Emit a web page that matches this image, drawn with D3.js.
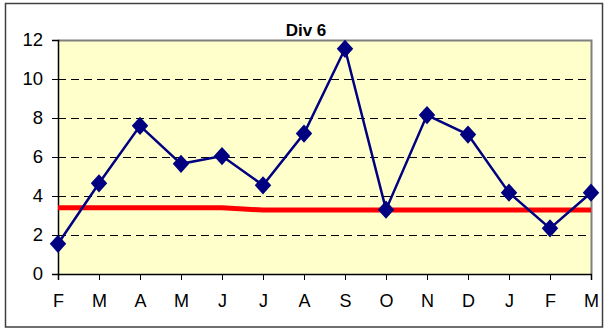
<!DOCTYPE html>
<html>
<head>
<meta charset="utf-8">
<script src="https://cdn.jsdelivr.net/npm/d3@7"></script>
<style>
  html, body { margin: 0; padding: 0; background: #fff; }
  svg { display: block; font-family: Arial, "Liberation Sans", sans-serif; }
</style>
</head>
<body>
<svg id="chart" width="608" height="329"></svg>
<script>
// Monthly series for Div 6
const months = ["F", "M", "A", "M", "J", "J", "A", "S", "O", "N", "D", "J", "F", "M"];
const actual = [1.55, 4.65, 7.6, 5.65, 6.05, 4.55, 7.2, 11.55, 3.3, 8.15, 7.15, 4.17, 2.34, 4.17];
const target = [3.4, 3.4, 3.4, 3.4, 3.4, 3.28, 3.28, 3.28, 3.28, 3.28, 3.28, 3.28, 3.28, 3.28];
const yTicks = [0, 2, 4, 6, 8, 10, 12];

const svg = d3.select("#chart");
const W = 608, H = 329;
const m = { left: 58, right: 17, top: 40, bottom: 55 };
const pw = W - m.left - m.right, ph = H - m.top - m.bottom;

// outer frame
svg.append("rect").attr("x", 5.5).attr("y", 3.5).attr("width", 597).attr("height", 323.5)
  .attr("fill", "#fff").attr("stroke", "#404040").attr("stroke-width", 1.5);

const g = svg.append("g").attr("transform", `translate(${m.left},${m.top})`);

const x = d3.scalePoint().domain(d3.range(months.length)).range([0, pw]);
const y = d3.scaleLinear().domain([0, 12]).range([ph, 0]);

// plot area
g.append("rect").attr("width", pw).attr("height", ph).attr("fill", "#FFFFCC");

// dashed gridlines
g.selectAll("line.grid").data(yTicks.filter(v => v > 0 && v < 12)).join("line")
  .attr("class", "grid")
  .attr("x1", 0).attr("x2", pw)
  .attr("y1", d => Math.round(y(d)) + 0.5).attr("y2", d => Math.round(y(d)) + 0.5)
  .attr("stroke", "#000").attr("stroke-width", 1).attr("stroke-dasharray", "8,5");

// top and right plot border
g.append("path").attr("d", `M0,0.5H${pw + 0.5}V${ph}`)
  .attr("fill", "none").attr("stroke", "#808080").attr("stroke-width", 2);

// axes
const yAxis = d3.axisLeft(y).tickValues(yTicks).tickSize(6).tickPadding(9);
const ya = g.append("g").call(yAxis);
ya.select(".domain").attr("stroke", "#000").attr("stroke-width", 1.5);
ya.selectAll(".tick line").attr("stroke", "#000");
ya.selectAll("text").attr("font-size", 18.5).attr("fill", "#000")
  .attr("font-family", "Arial, 'Liberation Sans', sans-serif");

const xAxis = d3.axisBottom(x).tickFormat(i => months[i]).tickSize(6).tickPadding(14);
const xa = g.append("g").attr("transform", `translate(0,${ph})`).call(xAxis);
xa.select(".domain").attr("stroke", "#000").attr("stroke-width", 1.5);
xa.selectAll(".tick line").attr("stroke", "#000");
xa.selectAll("text").attr("font-size", 18).attr("fill", "#000")
  .attr("font-family", "Arial, 'Liberation Sans', sans-serif");

// target line
const line = d3.line().x((d, i) => x(i)).y(d => y(d));
g.append("path").datum(target).attr("d", line)
  .attr("fill", "none").attr("stroke", "#FF0000").attr("stroke-width", 5);

// actual series
g.append("path").datum(actual).attr("d", line)
  .attr("fill", "none").attr("stroke", "#000080").attr("stroke-width", 2.5);

const diamond = d3.symbol().type(d3.symbolDiamond).size(150);
g.selectAll("path.pt").data(actual).join("path")
  .attr("class", "pt")
  .attr("d", diamond)
  .attr("transform", (d, i) => `translate(${x(i)},${y(d)}) scale(1.25,0.8)`)
  .attr("fill", "#000080");

// title
svg.append("text").attr("x", 306).attr("y", 36).attr("text-anchor", "middle")
  .attr("font-size", 17).attr("font-weight", "bold").attr("fill", "#000").text("Div 6");
</script>
</body>
</html>
